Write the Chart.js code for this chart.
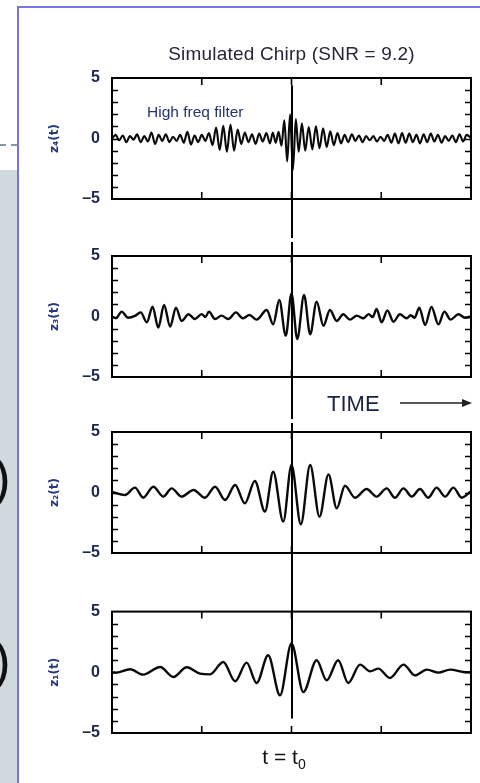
<!DOCTYPE html>
<html>
<head>
<meta charset="utf-8">
<script src="https://cdn.jsdelivr.net/npm/chart.js@4/dist/chart.umd.min.js"></script>
<style>
  html, body { margin: 0; padding: 0; }
  body { width: 480px; height: 783px; overflow: hidden; background: #fff; position: relative;
         font-family: 'Liberation Sans', Arial, sans-serif; }
  .abs { position: absolute; }
  canvas { position: absolute; left: 0; }
  .paren { position: absolute; left: -7px; font-size: 53px; line-height: 53px; color: #111; }
</style>
</head>
<body>
<script>
// ---------- DATA ----------
const panelNames = ['z₄(t)', 'z₃(t)', 'z₂(t)', 'z₁(t)'];
const timeTicks = [25, 50, 75];
const yTickValues = [-5, 0, 5];
const yTickText = ['–5', '0', '5'];
const T0 = 50;

// z4 : high frequency filter (top panel)
const z4Time = [0,1,2,3,4,5,6,7,8,9,10,11,12,13,14,15,16,17,18,19,20,21,22,23,24,25,26,27,28,29,30,31,32,33,34,35,36,37,38,39,40,41,42,43,44,44.8,45.6,46.4,47.2,48.0,48.8,49.6,50.4,51.2,52.0,52.9,53.8,54.8,55.8,56.8,57.8,58.8,59.8,60.8,61.8,62.8,63.8,64.8,65.8,66.8,67.8,68.8,69.8,70.8,71.8,72.8,73.8,74.8,75.8,76.8,77.8,78.8,79.8,80.8,81.8,82.8,83.8,84.8,85.8,86.8,87.8,88.8,89.8,90.8,91.8,92.8,93.8,94.8,95.8,96.8,97.8,98.8,100];
const z4Value = [0,0.3,-0.15,0.25,-0.3,0.2,-0.1,0.35,-0.3,0.2,-0.25,0.5,-0.45,0.3,-0.2,0.35,-0.3,0.15,-0.2,0.3,-0.35,0.55,-0.5,0.25,-0.3,0.3,-0.2,0.45,-0.55,0.9,-0.95,1.05,-1.1,1.15,-1.0,0.75,-0.45,0.5,-0.3,0.35,-0.45,0.4,-0.25,0.45,-0.4,0.5,-0.35,0.55,-0.6,1.5,-1.9,2.0,-2.6,1.6,-1.1,1.25,-1.0,0.95,-0.9,1.0,-0.8,0.85,-0.7,0.6,-0.55,0.45,-0.4,0.3,-0.3,0.35,-0.2,0.25,-0.3,0.2,-0.15,0.2,-0.25,0.15,-0.2,0.3,-0.35,0.4,-0.4,0.45,-0.35,0.4,-0.3,0.3,-0.4,0.35,-0.3,0.4,-0.25,0.3,-0.35,0.2,-0.2,0.25,-0.3,0.35,-0.25,0.3,0.05];

// z3
const z3Time = [0,1.1,2.7,4.5,6.4,8.0,9.7,11.3,12.9,14.5,16.2,17.8,19.4,21.3,23.1,25.0,26.0,27.0,28.7,30.5,32.4,34.5,36.4,38.3,40.3,43.1,44.9,46.6,48.4,50.0,51.6,53.5,55.2,57.0,58.9,60.7,62.6,64.4,66.3,68.2,70.0,71.5,72.6,73.7,75.1,76.7,78.4,80.2,82.1,83.2,84.3,85.6,87.2,89.0,90.9,92.6,94.3,96.5,98.3,100];
const z3Value = [0,-0.14,0.40,-0.1,0.05,0.34,-0.48,0.81,-0.92,0.95,-0.84,0.73,-0.37,0.18,-0.21,0.2,-0.05,0.4,-0.21,0.07,-0.21,0.34,-0.15,0.12,-0.26,0.54,-0.65,1.36,-1.58,1.91,-1.86,1.78,-1.47,1.23,-0.76,0.54,-0.37,0.18,-0.26,0.07,-0.15,0.2,-0.05,0.62,-0.48,0.51,-0.43,0.18,-0.15,0.1,-0.1,0.73,-0.70,0.79,-0.65,0.40,-0.26,0.18,-0.1,0];

// z2
const z2Time = [0,3.6,6.4,8.7,11.5,14.3,16.6,19.4,22.7,25.9,28.7,31.5,34.3,37.0,39.8,42.6,44.9,47.7,50.0,52.6,55.2,57.8,60.3,62.6,64.9,67.7,70.9,73.7,76.5,78.8,81.2,83.5,85.8,88.1,90.4,92.8,95.1,97.4,100];
const z2Value = [0.05,-0.21,0.40,-0.43,0.48,-0.34,0.34,-0.34,0.21,-0.43,0.48,-0.62,0.62,-0.90,0.95,-1.58,1.72,-2.41,2.27,-2.63,2.27,-2.0,1.50,-1.31,0.56,-0.43,0.29,-0.34,0.34,-0.43,0.34,-0.34,0.29,-0.43,0.40,-0.34,0.40,-0.43,0.1];

// z1
const z1Time = [0,1.3,5.0,8.7,13.4,17.1,20.8,24.5,27.3,31.0,34.3,37.5,40.3,43.5,46.8,50.0,53.3,57.0,59.8,63.0,65.8,69.1,71.9,74.2,77.4,81.2,84.4,87.7,90.9,94.2,97.9,100];
const z1Value = [0,-0.03,0.25,-0.19,0.44,-0.39,0.41,-0.11,-0.17,0.85,-0.74,0.80,-0.88,1.40,-1.90,2.37,-1.63,0.99,-0.66,0.99,-0.88,0.63,0.08,0.30,-0.47,0.63,-0.25,0.22,-0.03,0.22,0.03,0];

const panelTimes = [z4Time, z3Time, z2Time, z1Time];
const panelValues = [z4Value, z3Value, z2Value, z1Value];

// ---------- LAYOUT (canvas placement, not data) ----------
const canvasBoxes = [
  {top: 0,   height: 230, padTop: 78, padBottom: 31, line: {topValue: 4.4, gap: null}},
  {top: 230, height: 180, padTop: 26, padBottom: 33, line: {topPx: 0, gap: [8, 12]}},
  {top: 410, height: 180, padTop: 22, padBottom: 37, line: {topPx: 0, gap: [9, 13]}},
  {top: 590, height: 193, padTop: 21, padBottom: 50, line: {topPx: 0, bottomValue: -3.8, gap: null}}
];

const chirpFrame = {
  id: 'chirpFrame',
  afterDatasetsDraw(chart, args, o) {
    const {ctx, chartArea: a, scales: {x, y}} = chart;
    ctx.save();
    ctx.strokeStyle = '#000';
    // t = t0 line
    const px = Math.round(x.getPixelForValue(T0));
    const top = (o.topValue !== undefined) ? y.getPixelForValue(o.topValue) : o.topPx;
    const bot = (o.bottomValue !== undefined) ? y.getPixelForValue(o.bottomValue) : chart.height;
    ctx.lineWidth = 2;
    ctx.beginPath();
    if (o.gap) {
      ctx.moveTo(px, top); ctx.lineTo(px, o.gap[0]);
      ctx.moveTo(px, o.gap[1]); ctx.lineTo(px, bot);
    } else {
      ctx.moveTo(px, top); ctx.lineTo(px, bot);
    }
    ctx.stroke();
    // frame
    ctx.lineWidth = 2;
    ctx.strokeRect(a.left, a.top, a.width, a.height);
    // inward ticks
    ctx.lineWidth = 1.6;
    ctx.beginPath();
    timeTicks.forEach(v => {
      const p = x.getPixelForValue(v);
      ctx.moveTo(p, a.top); ctx.lineTo(p, a.top + 7);
      ctx.moveTo(p, a.bottom); ctx.lineTo(p, a.bottom - 7);
    });
    y.ticks.forEach(t => {
      if (t.value <= y.min || t.value >= y.max) return;
      const p = Math.round(y.getPixelForValue(t.value)) + 0.5;
      ctx.moveTo(a.left, p); ctx.lineTo(a.left + 6, p);
      ctx.moveTo(a.right, p); ctx.lineTo(a.right - 6, p);
    });
    ctx.stroke();
    ctx.restore();
  }
};

canvasBoxes.forEach((b, i) => {
  const c = document.createElement('canvas');
  c.width = 480; c.height = b.height;
  c.style.top = b.top + 'px';
  c.style.width = '480px'; c.style.height = b.height + 'px';
  document.body.appendChild(c);
  const pts = panelTimes[i].map((t, k) => ({x: t, y: panelValues[i][k]}));
  new Chart(c, {
    type: 'line',
    data: { datasets: [{ data: pts, borderColor: '#0a0a0a', borderWidth: i === 0 ? 2.1 : 2.4,
                         pointRadius: 0, cubicInterpolationMode: 'monotone', fill: false }] },
    options: {
      responsive: false, animation: false, events: [],
      layout: { padding: { left: 40, right: 9, top: b.padTop, bottom: b.padBottom } },
      plugins: { legend: { display: false }, tooltip: { enabled: false }, title: { display: false },
                 chirpFrame: b.line },
      scales: {
        x: { type: 'linear', min: 0, max: 100, display: false },
        y: {
          min: -5, max: 5,
          ticks: { stepSize: 1, autoSkip: false, padding: 12, color: '#1c264e',
                   font: { family: "'Liberation Sans', Arial, sans-serif", size: 16, weight: 'bold' },
                   callback: v => { const k = yTickValues.indexOf(v); return k >= 0 ? yTickText[k] : ''; } },
          grid: { display: false, drawTicks: false },
          border: { display: false },
          title: { display: true, text: panelNames[i], color: '#263a7e',
                   font: { family: "'DejaVu Sans', sans-serif", size: 12, weight: 'bold' }, padding: { top: 8, bottom: 0 } },
          afterFit(s) { s.width = 72; }
        }
      }
    },
    plugins: [chirpFrame]
  });
});
</script>

<div class="abs" style="left:0;top:170px;width:17px;height:613px;background:#cfd9de"></div>
<div class="abs" style="left:0;top:144px;width:17px;border-top:2px dashed #809ba1"></div>
<div class="paren" style="top:451px">)</div>
<div class="paren" style="top:634px">)</div>
<div class="abs" style="left:17px;top:6px;width:480px;height:800px;border:2px solid #7b70e6;box-sizing:border-box;pointer-events:none"></div>

<div class="abs" style="left:0;width:583px;top:43px;text-align:center;font-size:19px;color:#26263a;letter-spacing:0.2px">Simulated Chirp (SNR = 9.2)</div>
<div class="abs" style="left:147px;top:103px;font-size:15.5px;color:#253375">High freq filter</div>
<div class="abs" style="left:327px;top:391px;font-size:22px;color:#1a2244">TIME</div>
<svg class="abs" style="left:398px;top:396px" width="76" height="14">
  <line x1="2" y1="7" x2="66" y2="7" stroke="#222" stroke-width="1.6"/>
  <polygon points="74,7 64,3 64,11" fill="#222"/>
</svg>
<div class="abs" style="left:0;width:568px;top:745px;text-align:center;font-size:21px;color:#111">t = t<sub style="font-size:14px;vertical-align:-5px">0</sub></div>
</body>
</html>
